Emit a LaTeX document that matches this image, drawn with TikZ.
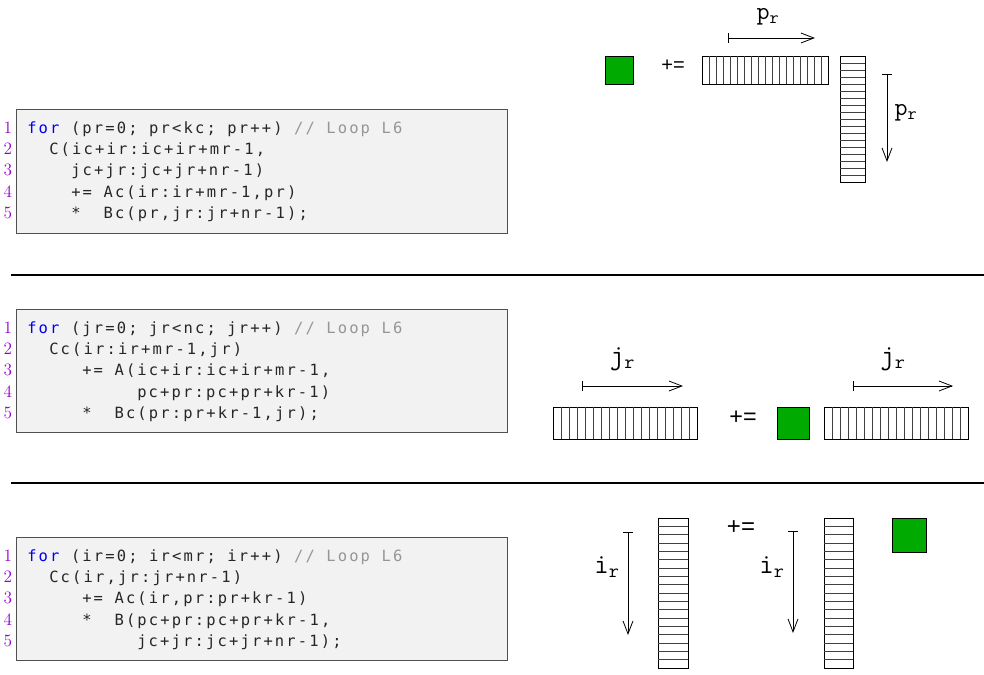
\documentclass[tikz,border=0pt]{standalone}
\usepackage{fontspec}
\usetikzlibrary{arrows.meta}
\newfontfamily\codefont{DejaVu Sans Mono}[LetterSpace=14]
\newfontfamily\opfont{Liberation Sans}
\definecolor{kwblue}{RGB}{0,0,240}
\definecolor{cmtgray}{RGB}{150,150,150}
\definecolor{numpurple}{RGB}{150,0,210}
\definecolor{blockgreen}{RGB}{0,170,0}
\definecolor{codebg}{RGB}{242,242,242}
\definecolor{framegray}{RGB}{80,80,80}

\tikzset{
  codeline/.style={anchor=base west, inner sep=0pt, font=\codefont\fontsize{11.6}{13}\selectfont, text=black!85},
  lineno/.style={anchor=base east, inner sep=0pt, font=\fontsize{13}{15}\selectfont, text=numpurple},
  codebox/.style={draw=framegray, fill=codebg, line width=0.75pt},
  panel/.style={draw, fill=white, line width=0.6pt},
  stripe/.style={line width=0.4pt, black!75},
  block/.style={draw, fill=blockgreen, line width=0.6pt},
  op/.style={inner sep=0pt, font=\opfont\fontsize{#1}{#1}\selectfont},
  idx/.style={inner sep=0pt, font=\fontsize{#1}{#1}\selectfont},
  sweep/.style={line width=0.6pt, {Bar[width=7.5pt]}-{Straight Barb[length=9.75pt,width=7.5pt]}},
}

\begin{document}
\begin{tikzpicture}[x=0.75pt, y=-0.75pt]
  \useasboundingbox (0,0) rectangle (984,674);

  % separators
  \draw[line width=0.8pt] (11,275) -- (984,275);
  \draw[line width=0.8pt] (11,483) -- (984,483);

  % ---------- loop over pr ----------
  \draw[codebox] (16,109) rectangle (507,233);
  \foreach \n/\y in {1/133, 2/154.3, 3/175.6, 4/197, 5/218.3}
    \node[lineno] (pn\n) at (12.5,\y) {\n};
  \node[codeline] (pc1) at (27,133) {\textcolor{kwblue}{for} (pr=0; pr<kc; pr++) \textcolor{cmtgray}{// Loop L6}};
  \node[codeline] (pc2) at (49,154.3) {C(ic+ir:ic+ir+mr-1,};
  \node[codeline] (pc3) at (71,175.6) {jc+jr:jc+jr+nr-1)};
  \node[codeline] (pc4) at (71,197) {+= Ac(ir:ir+mr-1,pr)};
  \node[codeline] (pc5) at (71,218.3) {*~ Bc(pr,jr:jr+nr-1);};

  \draw[block] (605,56) rectangle (633,84);
  \node[op=15] (pop) at (673,66) {+=};
  \draw[panel] (702,56) rectangle (828,84);
  \foreach \i in {1,...,17}
    \draw[stripe] (702+7*\i,56) -- (702+7*\i,84);
  \draw[panel] (840,56) rectangle (865,182);
  \foreach \i in {1,...,17}
    \draw[stripe] (840,56+7*\i) -- (865,56+7*\i);
  \coordinate (pa0) at (728,38);
  \coordinate (pa1) at (815,38);
  \draw[sweep] (pa0) -- (pa1);
  \node[idx=19] (plab1) at (768,17) {$\mathtt{p}_{\mathtt{r}}$};
  \coordinate (pb0) at (887,74);
  \coordinate (pb1) at (887,162);
  \draw[sweep] (pb0) -- (pb1);
  \node[idx=19] (plab2) at (906,113) {$\mathtt{p}_{\mathtt{r}}$};

  % ---------- loop over jr ----------
  \draw[codebox] (16,309) rectangle (507,432);
  \foreach \n/\y in {1/333, 2/354.3, 3/375.6, 4/397, 5/418.3}
    \node[lineno] (jn\n) at (12.5,\y) {\n};
  \node[codeline] (jc1) at (27,333) {\textcolor{kwblue}{for} (jr=0; jr<nc; jr++) \textcolor{cmtgray}{// Loop L6}};
  \node[codeline] (jc2) at (49,354.3) {Cc(ir:ir+mr-1,jr)};
  \node[codeline] (jc3) at (82,375.6) {+= A(ic+ir:ic+ir+mr-1,};
  \node[codeline] (jc4) at (137,397) {pc+pr:pc+pr+kr-1)};
  \node[codeline] (jc5) at (82,418.3) {*~ Bc(pr:pr+kr-1,jr);};

  \draw[panel] (553,407) rectangle (697,439);
  \foreach \i in {1,...,17}
    \draw[stripe] (553+8*\i,407) -- (553+8*\i,439);
  \coordinate (ja0) at (582,386);
  \coordinate (ja1) at (683,386);
  \draw[sweep] (ja0) -- (ja1);
  \node[idx=21] (jlab1) at (622.5,359) {$\mathtt{j}_{\mathtt{r}}$};
  \node[op=17.5] (jop) at (743,418) {+=};
  \draw[block] (777,407) rectangle (809,439);
  \draw[panel] (824,407) rectangle (968,439);
  \foreach \i in {1,...,17}
    \draw[stripe] (824+8*\i,407) -- (824+8*\i,439);
  \coordinate (jb0) at (853,386);
  \coordinate (jb1) at (953,386);
  \draw[sweep] (jb0) -- (jb1);
  \node[idx=21] (jlab2) at (893,359) {$\mathtt{j}_{\mathtt{r}}$};

  % ---------- loop over ir ----------
  \draw[codebox] (16,537) rectangle (507,660);
  \foreach \n/\y in {1/561, 2/582.3, 3/603.6, 4/625, 5/646.3}
    \node[lineno] (in\n) at (12.5,\y) {\n};
  \node[codeline] (ic1) at (27,561) {\textcolor{kwblue}{for} (ir=0; ir<mr; ir++) \textcolor{cmtgray}{// Loop L6}};
  \node[codeline] (ic2) at (49,582.3) {Cc(ir,jr:jr+nr-1)};
  \node[codeline] (ic3) at (82,603.6) {+= Ac(ir,pr:pr+kr-1)};
  \node[codeline] (ic4) at (82,625) {*~ B(pc+pr:pc+pr+kr-1,};
  \node[codeline] (ic5) at (137,646.3) {jc+jr:jc+jr+nr-1);};

  \node[idx=21] (ilab1) at (607,567) {$\mathtt{i}_{\mathtt{r}}$};
  \coordinate (ia0) at (628,532);
  \coordinate (ia1) at (628,635);
  \draw[sweep] (ia0) -- (ia1);
  \draw[panel] (658,518) rectangle (688,668);
  \foreach \i in {1,...,17}
    \draw[stripe] (658,518+8.333*\i) -- (688,518+8.333*\i);
  \node[op=18] (iop) at (741,528) {+=};
  \node[idx=21] (ilab2) at (772,567) {$\mathtt{i}_{\mathtt{r}}$};
  \coordinate (ib0) at (793,531);
  \coordinate (ib1) at (793,633);
  \draw[sweep] (ib0) -- (ib1);
  \draw[panel] (824,518) rectangle (853,668);
  \foreach \i in {1,...,17}
    \draw[stripe] (824,518+8.333*\i) -- (853,518+8.333*\i);
  \draw[block] (892,518) rectangle (926,552);
\end{tikzpicture}
\end{document}
